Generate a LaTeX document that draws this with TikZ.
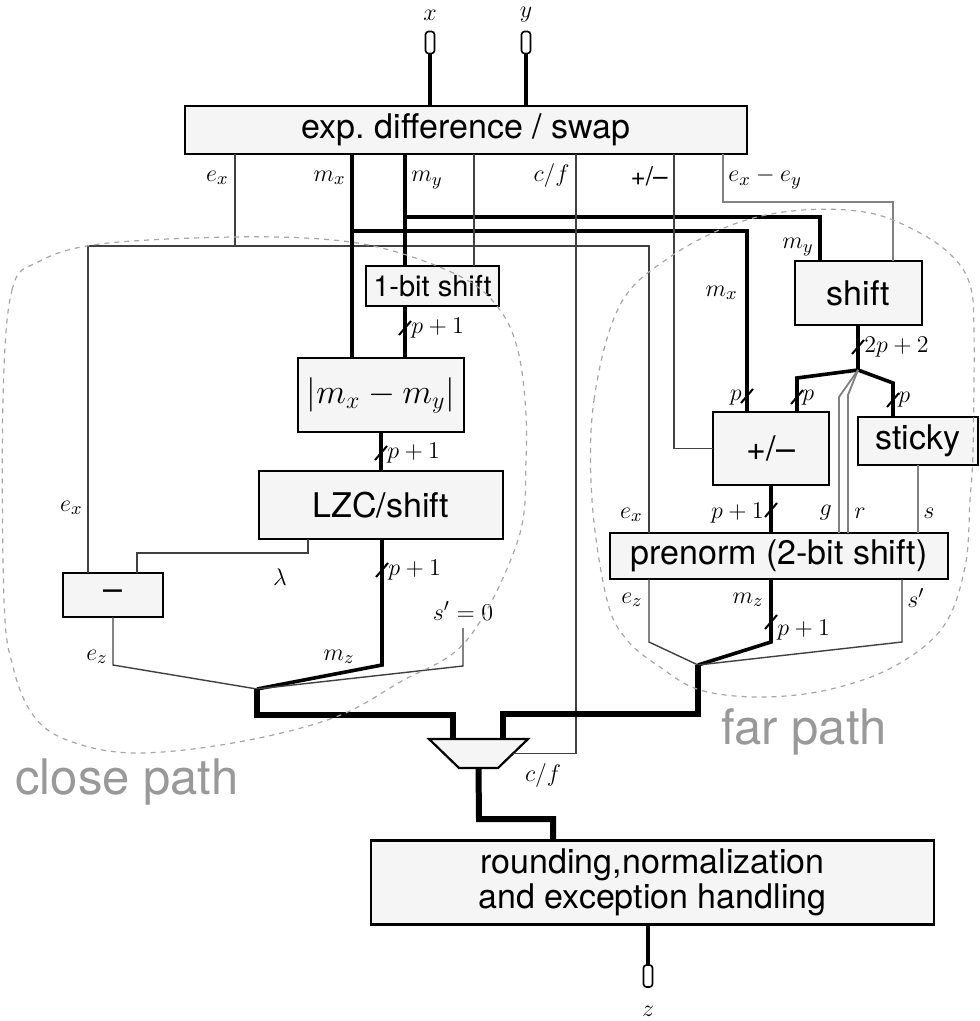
\documentclass[tikz,border=0pt]{standalone}
\usepackage{fontspec}
\setsansfont{TeX Gyre Heros}
\tikzset{
  blk/.style={draw, line width=1.2pt, fill=black!4, inner sep=0pt, outer sep=0pt, font=\sffamily\fontsize{17}{20}\selectfont},
  lbl/.style={inner sep=1pt, font=\fontsize{13}{15}\selectfont},
  wire/.style={line width=0.7pt, black!75},
  gwire/.style={line width=0.9pt, black!50},
  sig/.style={line width=1.8pt},
  bus/.style={line width=3pt},
  tick/.style={line width=1pt},
  region/.style={dash pattern=on 2.5pt off 2.5pt, black!35, line width=0.6pt},
  pinbox/.style={draw, line width=0.8pt, fill=white, minimum width=4.5pt, minimum height=11pt, rounded corners=1.5pt, inner sep=0pt, outer sep=0pt},
  pathlab/.style={font=\sffamily\fontsize{24.5}{28}\selectfont, text=black!40, inner sep=0pt},
}
\begin{document}
\begin{tikzpicture}[x=0.5pt, y=-0.5pt]
\useasboundingbox (0,0) rectangle (979,1021);

\node[pinbox] (xin) at (430,42.5) {};
\node[pinbox] (yin) at (526,42.5) {};
\node[lbl] (xlab) at (430,15) {$x$};
\node[lbl] (ylab) at (526,15) {$y$};
\node[blk, minimum width=281pt, minimum height=24pt] (swap) at (466,130) {exp.\ difference / swap};

\node[blk, minimum width=66.5pt, minimum height=20pt, font=\sffamily\fontsize{14.5}{17}\selectfont] (onebit) at (432.5,286) {1-bit shift};
\node[blk, minimum width=83pt, minimum height=37pt] (absdiff) at (381,395) {$|m_x-m_y|$};
\node[blk, minimum width=122pt, minimum height=34pt] (lzc) at (381,505) {LZC/shift};
\node[blk, minimum width=50pt, minimum height=22pt] (sub) at (113,595) {--};

\node[blk, minimum width=63.5pt, minimum height=32pt] (shift) at (858.5,293) {shift};
\node[blk, minimum width=58pt, minimum height=36.5pt] (addsub) at (771,448.5) {+/--};
\node[blk, minimum width=60pt, minimum height=24pt] (sticky) at (918,441) {sticky};
\node[blk, minimum width=169pt, minimum height=23pt] (prenorm) at (779,556) {prenorm (2-bit shift)};

\coordinate (muxN) at (478.5,739);
\coordinate (muxS) at (478.5,768);
\coordinate (muxE) at (513,753.5);
\draw[line width=1.1pt, fill=black!4] (429,739) -- (528,739) -- (498,768) -- (459,768) -- cycle;
\node[blk, minimum width=281.5pt, minimum height=42pt, align=center, font=\sffamily\fontsize{17}{17.5}\selectfont] (round) at (652.5,882.5) {rounding,normalization\\and exception handling};
\node[pinbox] (zout) at (648,976) {};
\node[lbl] (zlab) at (648,1011) {$z$};

\coordinate (szero) at (463,628);
\coordinate (cmerge) at (257,689);
\coordinate (fmerge) at (698,665);
\coordinate (split) at (858,370);

\draw[sig] (xin) -- (swap.north -| xin);
\draw[sig] (yin) -- (swap.north -| yin);

\draw[wire] (swap.south -| 235,0) -- (235,246);
\draw[wire] (sub.north -| 88,0) -- (88,246) -| (prenorm.north -| 649,0);
\draw[sig] (swap.south -| 352,0) -- (absdiff.north -| 352,0);
\draw[sig] (352,231) -| (addsub.north -| 747,0);
\draw[sig] (swap.south -| 405,0) -- (onebit.north -| 405,0);
\draw[sig] (405,217) -| (shift.north -| 820,0);
\draw[wire] (swap.south -| 474,0) -- (onebit.north -| 474,0);
\draw[wire] (swap.south -| 576,0) |- (muxE);
\draw[wire] (swap.south -| 674,0) |- (addsub.west);
\draw[gwire] (swap.south -| 723,0) -- (723,202) -| (shift.north -| 893,0);

\node[lbl, anchor=east] (lex) at (231,178) {$e_x$};
\node[lbl, anchor=east] (lmx) at (348,178) {$m_x$};
\node[lbl, anchor=west] (lmy) at (409,180) {$m_y$};
\node[lbl, anchor=east] (lcf) at (572,176) {$c/f$};
\node[lbl, anchor=east, font=\sffamily\fontsize{13}{15}\selectfont] (lpm) at (670,176) {+/--};
\node[lbl, anchor=west] (ldiff) at (726,178) {$e_x-e_y$};

\draw[sig] (onebit.south -| 405,0) -- (absdiff.north -| 405,0);
\draw[sig] (absdiff.south -| 381,0) -- (lzc.north -| 381,0);
\draw[wire] (lzc.south -| 308,0) -- (308,553) -| (sub.north -| 137,0);
\draw[sig] (lzc.south -| 382,0) -- (382,665) -- (cmerge);
\draw[wire] (sub.south) -- (113,665) -- (cmerge);
\draw[wire] (szero) -- (463,666) -- (cmerge);
\draw[bus] (cmerge) -- (257,715) -| (muxN -| 453,0);

\draw[tick] (399,335) -- (411,321);
\draw[tick] (375,460) -- (387,446);
\draw[tick] (376,577) -- (388,563);
\node[lbl, anchor=west] (lp1) at (409,328) {$p+1$};
\node[lbl, anchor=west] (lp2) at (385,453) {$p+1$};
\node[lbl, anchor=west] (lp3) at (386,570) {$p+1$};
\node[lbl, anchor=east] (lex2) at (85,508) {$e_x$};
\node[lbl] (llam) at (280,577) {$\lambda$};
\node[lbl] (lszero) at (463,611) {$s'=0$};
\node[lbl, anchor=east] (lez) at (110,657) {$e_z$};
\node[lbl, anchor=east] (lmz) at (357,657) {$m_z$};

\draw[sig] (shift.south -| split) -- (split);
\draw[sig] (split) -- (797,378) -- (addsub.north -| 797,0);
\draw[sig] (split) -- (893,383) -- (sticky.north -| 893,0);
\draw[gwire] (split) -- (839,397) -- (prenorm.north -| 839,0);
\draw[gwire] (split) -- (848,395) -- (prenorm.north -| 848,0);
\draw[gwire] (sticky.south -| 918,0) -- (prenorm.north -| 918,0);
\draw[sig] (addsub.south) -- (prenorm.north -| addsub.south);
\draw[wire] (prenorm.south -| 649,0) -- (649,642) -- (fmerge);
\draw[sig] (prenorm.south -| 771,0) -- (771,642) -- (fmerge);
\draw[wire] (prenorm.south -| 902,0) -- (902,642) -- (fmerge);
\draw[bus] (fmerge) -- (698,714) -| (muxN -| 503,0);

\draw[tick] (852,354) -- (864,340);
\draw[tick] (741,403) -- (753,389);
\draw[tick] (791,404) -- (803,390);
\draw[tick] (887,407) -- (899,393);
\draw[tick] (765,517) -- (777,503);
\draw[tick] (765,629) -- (777,615);
\node[lbl, anchor=west] (l2p) at (862,347) {$2p+2$};
\node[lbl, anchor=east] (lmx2) at (740,293) {$m_x$};
\node[lbl, anchor=east] (lmy2) at (816,247) {$m_y$};
\node[lbl, anchor=east] (lp4) at (744,398) {$p$};
\node[lbl, anchor=west] (lp5) at (800,398) {$p$};
\node[lbl, anchor=west] (lp6) at (896,400) {$p$};
\node[lbl, anchor=east] (lex3) at (645,515) {$e_x$};
\node[lbl, anchor=east] (lp7) at (766,513) {$p+1$};
\node[lbl, anchor=east] (lg) at (834,513) {$g$};
\node[lbl, anchor=west] (lr) at (852,513) {$r$};
\node[lbl, anchor=west] (ls) at (921,513) {$s$};
\node[lbl, anchor=east] (lez2) at (645,600) {$e_z$};
\node[lbl, anchor=east] (lmz2) at (766,600) {$m_z$};
\node[lbl, anchor=west] (lp8) at (775,630) {$p+1$};
\node[lbl, anchor=west] (lsp) at (905,598) {$s'$};

\draw[bus] (muxS) -- (479,819) -| (round.north -| 553,0);
\node[lbl] (lcf2) at (543,775) {$c/f$};
\draw[sig] (round.south -| zout) -- (zout);

\draw[region] plot[smooth cycle, tension=0.6] coordinates {(3,400) (12,290) (38,262) (100,244) (233,237) (333,240) (400,253) (467,280) (500,310) (517,347) (525,400) (526,460) (518,540) (467,640) (400,682) (333,718) (233,743) (133,753) (67,740) (33,715) (13,667) (4,600)};
\draw[region] plot[smooth cycle, tension=0.6] coordinates {(592,500) (594,400) (620,305) (670,257) (737,223) (803,210) (870,213) (920,233) (953,257) (970,285) (974,330) (973,450) (970,500) (965,567) (943,627) (893,667) (827,690) (760,697) (700,690) (660,667) (627,640) (607,600)};
\node[pathlab] (closelab) at (127,782) {close path};
\node[pathlab] (farlab) at (804,732) {far path};
\end{tikzpicture}
\end{document}
